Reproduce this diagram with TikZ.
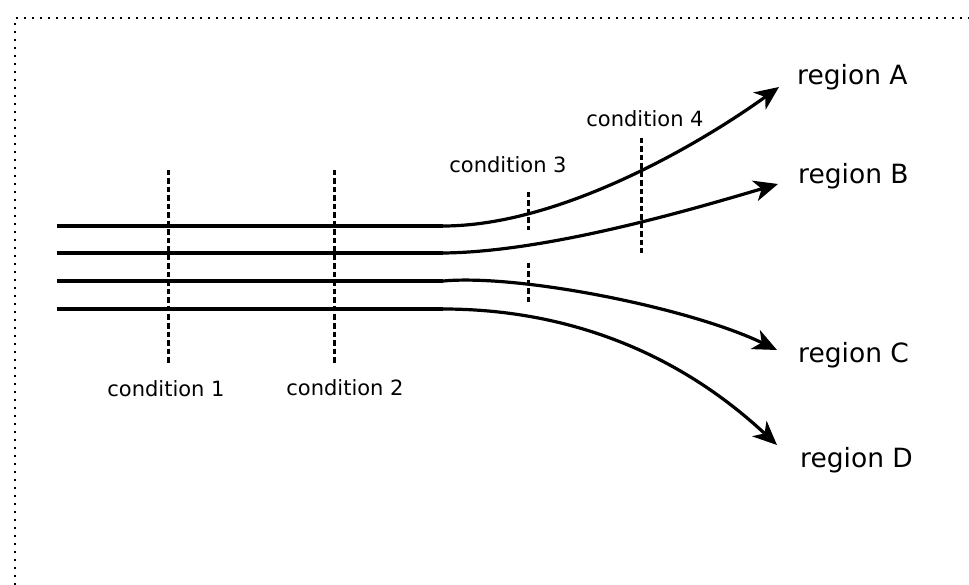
\documentclass[tikz,border=0pt]{standalone}
\usepackage{fontspec}
\setmainfont{DejaVu Sans}
\usetikzlibrary{arrows.meta}
\begin{document}
\begin{tikzpicture}[x=1pt,y=-1pt,
  flow/.style={line width=3.2pt,-{Stealth[length=24pt,width=21pt,inset=7pt]}},
  straight/.style={line width=3.2pt},
  cond/.style={line width=3pt,dash pattern=on 5.5pt off 3pt},
  condlabel/.style={font=\fontsize{21}{25}\selectfont,inner sep=0pt},
  reglabel/.style={font=\fontsize{26.5}{31}\selectfont,inner sep=0pt,anchor=base west},
  frame/.style={line width=2.6pt,dash pattern=on 2.4pt off 5.6pt}]
\useasboundingbox (0,0) rectangle (969,585);
% frame
\coordinate (fb) at (15,585);
\coordinate (fc) at (15,18);
\coordinate (fr) at (969,18);
\draw[frame] (fb) -- (fc) -- (fr);
% flow coordinates
\coordinate (s1) at (57,226);
\coordinate (s2) at (57,253);
\coordinate (s3) at (57,281);
\coordinate (s4) at (57,309);
\coordinate (k1) at (443,226);
\coordinate (k2) at (443,253);
\coordinate (k3) at (443,281);
\coordinate (k4) at (443,309);
\coordinate (t1) at (779,87);
\coordinate (t2) at (778,184);
\coordinate (t3) at (777,350);
\coordinate (t4) at (777,445);
% region labels
\node[reglabel] (regA) at (797,85) {region A};
\node[reglabel] (regB) at (798,184) {region B};
\node[reglabel] (regC) at (798,362) {region C};
\node[reglabel] (regD) at (800,467) {region D};
% flows
\draw[straight] (s1) -- (k1);
\draw[straight] (s2) -- (k2);
\draw[straight] (s3) -- (k3);
\draw[straight] (s4) -- (k4);
\draw[flow] (k1) .. controls (560,226) and (700,144) .. (t1);
\draw[flow] (k2) .. controls (550,252) and (700,207) .. (t2);
\draw[flow] (k3) .. controls (520,274) and (690,308) .. (t3);
\draw[flow] (k4) .. controls (540,309) and (660,336) .. (t4);
% condition lines
\coordinate (c1a) at (168,170); \coordinate (c1b) at (168,364);
\coordinate (c2a) at (334,170); \coordinate (c2b) at (334,364);
\coordinate (c3a) at (528,192); \coordinate (c3b) at (528,230);
\coordinate (c3c) at (528,263); \coordinate (c3d) at (528,302);
\coordinate (c4a) at (641,138); \coordinate (c4b) at (641,253);
\draw[cond] (c1a) -- (c1b);
\draw[cond] (c2a) -- (c2b);
\draw[cond] (c3a) -- (c3b);
\draw[cond] (c3c) -- (c3d);
\draw[cond] (c4a) -- (c4b);
% condition labels
\node[condlabel] (l1) at (166,389) {condition 1};
\node[condlabel] (l2) at (345,388) {condition 2};
\node[condlabel] (l3) at (508,165) {condition 3};
\node[condlabel] (l4) at (645,119) {condition 4};
\end{tikzpicture}
\end{document}
